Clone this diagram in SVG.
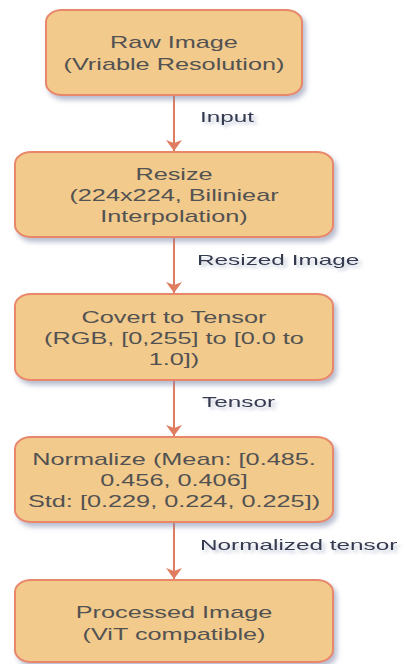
<svg xmlns="http://www.w3.org/2000/svg" width="406" height="664" viewBox="0 0 406 664">
<style>
.box{fill:#F2CA8C;stroke:#E8876A;stroke-width:2;filter:url(#sh)}
.bt{font-family:"Liberation Sans",Arial,sans-serif;font-size:16px;fill:#525252;text-anchor:middle}
.lb{font-family:"Liberation Sans",Arial,sans-serif;font-size:15.4px;fill:#363a50;filter:url(#tsh)}
.ed{stroke:#E07D60;stroke-width:2;fill:none;marker-end:url(#ah)}
</style>
<defs>
<filter id="sh" x="-10%" y="-10%" width="125%" height="135%">
<feDropShadow dx="3" dy="4" stdDeviation="2.5" flood-color="#7d86a8" flood-opacity="0.55"/>
</filter>
<filter id="tsh" x="-10%" y="-30%" width="125%" height="180%">
<feDropShadow dx="2" dy="3" stdDeviation="1.5" flood-color="#7d86a8" flood-opacity="0.45"/>
</filter>
<marker id="ah" markerWidth="11" markerHeight="16" refX="11" refY="8" orient="auto" markerUnits="userSpaceOnUse" viewBox="0 0 11 16">
<path d="M0,0 L11,8 L0,16 L3,8 Z" fill="#E07D60"/>
</marker>
</defs>

<g id="connectors">
<path class="ed" d="M174,96 L174,151"/>
<path class="ed" d="M174,238 L174,293"/>
<path class="ed" d="M174,381 L174,436"/>
<path class="ed" d="M174,523 L174,579"/>
<text class="lb" transform="translate(200 122) scale(1.58 1)">Input</text>
<text class="lb" transform="translate(197 265) scale(1.58 1)">Resized Image</text>
<text class="lb" transform="translate(202 407) scale(1.58 1)">Tensor</text>
<text class="lb" transform="translate(200 550) scale(1.58 1)">Normalized tensor</text>
</g>

<g id="raw">
<rect class="box" x="46" y="10" width="256" height="85" rx="16" ry="12"/>
<text class="bt" transform="translate(174 48) scale(1.58 1)">Raw Image</text>
<text class="bt" transform="translate(174 70) scale(1.58 1)">(Vriable Resolution)</text>
</g>

<g id="resize">
<rect class="box" x="15" y="152" width="318" height="85" rx="16" ry="12"/>
<text class="bt" transform="translate(174 180) scale(1.58 1)">Resize</text>
<text class="bt" transform="translate(174 201) scale(1.58 1)">(224x224, Biliniear</text>
<text class="bt" transform="translate(174 222) scale(1.58 1)">Interpolation)</text>
</g>

<g id="tensor">
<rect class="box" x="15" y="294" width="318" height="86" rx="16" ry="12"/>
<text class="bt" transform="translate(174 323) scale(1.58 1)">Covert to Tensor</text>
<text class="bt" transform="translate(174 344) scale(1.58 1)">(RGB, [0,255] to [0.0 to</text>
<text class="bt" transform="translate(174 365) scale(1.58 1)">1.0])</text>
</g>

<g id="normalize">
<rect class="box" x="15" y="437" width="318" height="85" rx="16" ry="12"/>
<text class="bt" transform="translate(174 465) scale(1.58 1)">Normalize (Mean: [0.485.</text>
<text class="bt" transform="translate(174 486) scale(1.58 1)">0.456, 0.406]</text>
<text class="bt" transform="translate(174 507) scale(1.58 1)">Std: [0.229, 0.224, 0.225])</text>
</g>

<g id="processed">
<rect class="box" x="15" y="580" width="318" height="82" rx="16" ry="12"/>
<text class="bt" transform="translate(174 618) scale(1.58 1)">Processed Image</text>
<text class="bt" transform="translate(174 640) scale(1.58 1)">(ViT compatible)</text>
</g>
</svg>
